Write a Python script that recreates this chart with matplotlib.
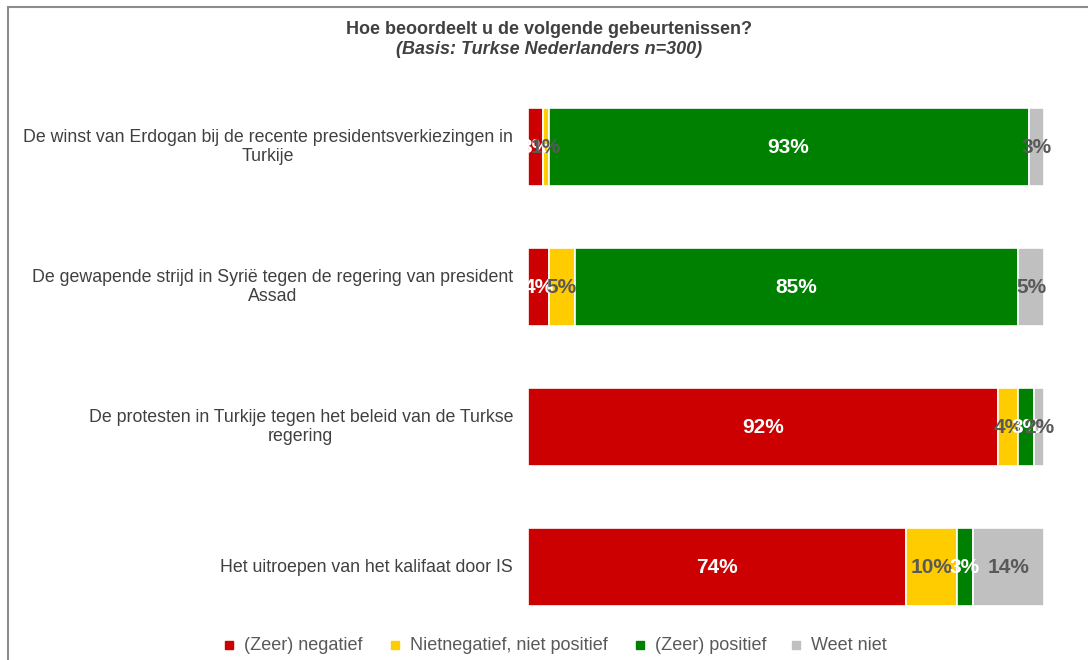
import matplotlib.pyplot as plt
import matplotlib.patches as patches
from matplotlib.lines import Line2D
import numpy as np

plt.rcParams['font.family'] = ['Liberation Sans', 'DejaVu Sans']

# --- Data ---
categories = [
    'De winst van Erdogan bij de recente presidentsverkiezingen in\nTurkije',
    'De gewapende strijd in Syrië tegen de regering van president\nAssad',
    'De protesten in Turkije tegen het beleid van de Turkse\nregering',
    'Het uitroepen van het kalifaat door IS',
]
series_names = ['(Zeer) negatief', 'Nietnegatief, niet positief', '(Zeer) positief', 'Weet niet']
negatief = [3, 4, 92, 74]
neutraal = [1, 5, 4, 10]
positief = [93, 85, 3, 3]
weet_niet = [3, 5, 2, 14]

colors = ['#CC0000', '#FFCC00', '#008000', '#C0C0C0']
label_colors = ['white', '#595959', 'white', '#595959']

W, H = 1088, 660
fig = plt.figure(figsize=(W / 100, H / 100), dpi=100)
ax = fig.add_axes([0.4853, 0.0348, 0.4743, 0.8485])

values = np.array([negatief, neutraal, positief, weet_niet], dtype=float)
totals = values.sum(axis=0)
y = np.arange(len(categories))
left = np.zeros(len(categories))
for vals, name, col, lcol in zip(values, series_names, colors, label_colors):
    widths = vals / totals * 100
    ax.barh(y, widths, left=left, height=0.557, color=col,
            edgecolor='white', linewidth=1.2, label=name)
    for yi, l, w, v in zip(y, left, widths, vals):
        ax.text(l + w / 2, yi, f'{int(v)}%', ha='center', va='center',
                fontsize=15, fontweight='bold', color=lcol)
    left += widths

ax.set_xlim(0, 100)
ax.set_ylim(len(categories) - 0.5, -0.5)
ax.axis('off')

# Category labels: right edge at ~513px, lines centred
label_x = -(528 - 513) / 516 * 100
for yi, cat in zip(y, categories):
    ax.text(label_x, yi, cat, ha='right', va='center', multialignment='center',
            fontsize=12.8, color='#404040', linespacing=1.15)

# Title
fig.text(0.505, 1 - 30 / H, 'Hoe beoordeelt u de volgende gebeurtenissen?',
         ha='center', va='center', fontsize=13, fontweight='bold', color='#404040')
fig.text(0.505, 1 - 50 / H, '(Basis: Turkse Nederlanders n=300)',
         ha='center', va='center', fontsize=13, fontweight='bold', style='italic',
         color='#404040')

# Legend, placed entry by entry like the reference
legend_x = [229, 395, 640, 796]
legend_y = 1 - 645 / H
for xp, name, col in zip(legend_x, series_names, colors):
    fig.add_artist(Line2D([xp / W], [legend_y], marker='s', linestyle='none',
                          markersize=6, markerfacecolor=col, markeredgecolor=col,
                          transform=fig.transFigure))
    fig.text((xp + 15) / W, legend_y, name, ha='left', va='center',
             fontsize=13, color='#595959')

# Chart border (left and top visible)
border = patches.Rectangle((8 / W, -0.1), 1.2, 1.1 - 7 / H, transform=fig.transFigure,
                           fill=False, edgecolor='#8C8C8C', linewidth=1.5)
fig.add_artist(border)

fig.savefig('out.png', dpi=100)
